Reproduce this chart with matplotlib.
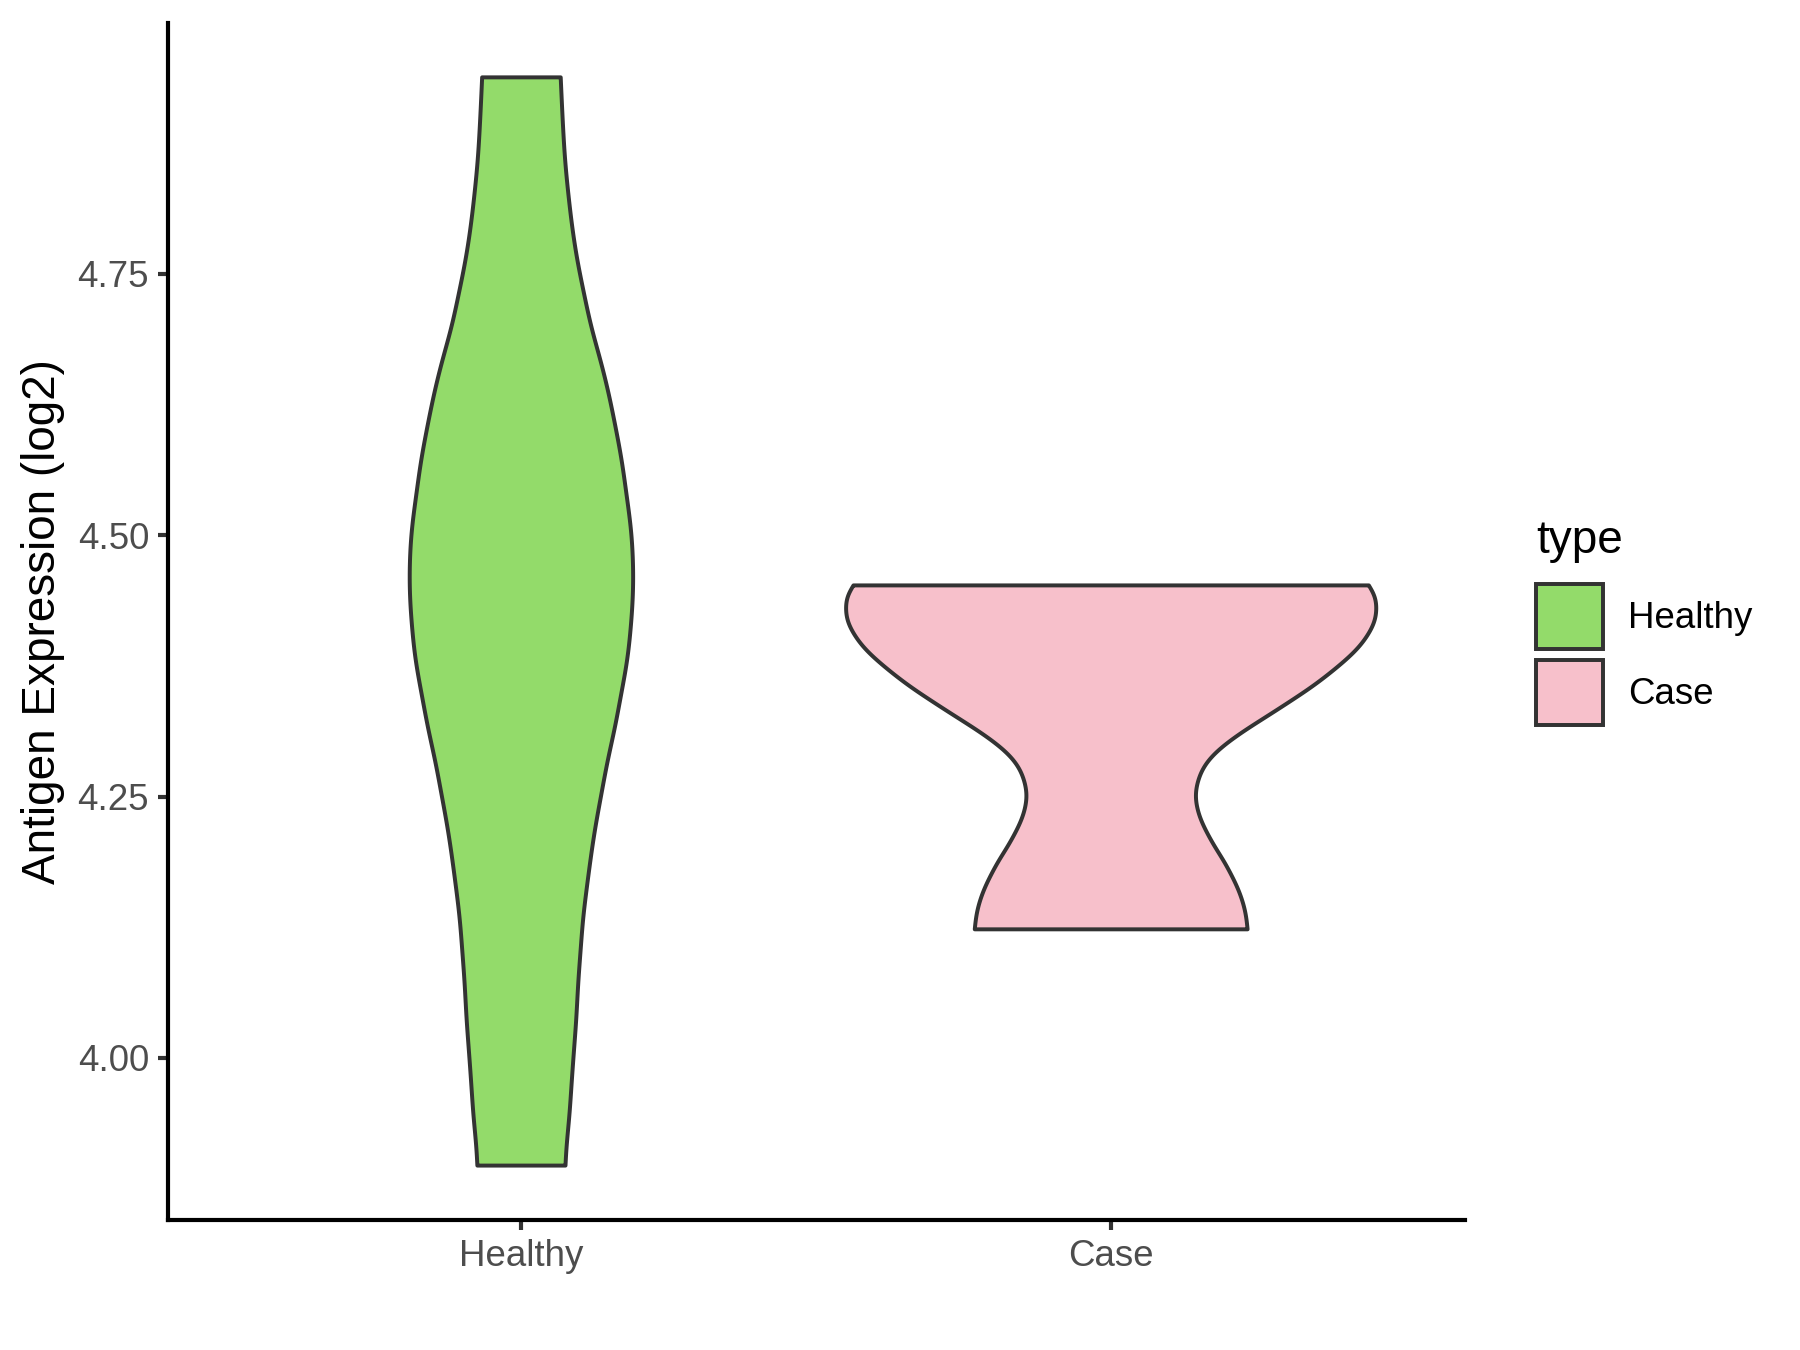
import numpy as np
import matplotlib
matplotlib.use("Agg")
import matplotlib.pyplot as plt
from matplotlib.patches import Patch, Rectangle
from matplotlib.legend_handler import HandlerPatch

plt.rcParams['font.family'] = ['Liberation Sans', 'DejaVu Sans']

# ---------------- data ----------------
categories = ["Healthy", "Case"]
fill_colors = ["#93DB6A", "#F7C0CB"]
legend_title = "type"
y_label = "Antigen Expression (log2)"

# violin profiles: expression value and relative density
healthy_y = [4.938, 4.890, 4.858, 4.826, 4.794, 4.763, 4.731, 4.699, 4.667, 4.635,
             4.603, 4.571, 4.539, 4.507, 4.476, 4.444, 4.412, 4.380, 4.348, 4.316,
             4.284, 4.252, 4.221, 4.189, 4.166, 4.134, 4.103, 4.071, 4.039, 4.007,
             3.975, 3.943, 3.911, 3.897]
healthy_density = [0.148, 0.157, 0.165, 0.177, 0.192, 0.211, 0.236, 0.264, 0.298, 0.329,
                   0.355, 0.378, 0.396, 0.412, 0.420, 0.420, 0.412, 0.398, 0.376, 0.352,
                   0.325, 0.301, 0.279, 0.260, 0.248, 0.233, 0.223, 0.214, 0.207, 0.198,
                   0.189, 0.180, 0.169, 0.166]

case_y = [4.452, 4.444, 4.431, 4.418, 4.406, 4.393, 4.380, 4.367, 4.354, 4.342,
          4.329, 4.316, 4.304, 4.291, 4.278, 4.265, 4.253, 4.240, 4.227, 4.214,
          4.201, 4.189, 4.176, 4.163, 4.150, 4.138, 4.123]
case_density = [0.971, 0.991, 1.000, 0.994, 0.971, 0.934, 0.881, 0.819, 0.751, 0.680,
                0.601, 0.520, 0.451, 0.389, 0.348, 0.327, 0.318, 0.323, 0.339, 0.364,
                0.393, 0.423, 0.451, 0.476, 0.495, 0.507, 0.514]

y_ticks = [4.00, 4.25, 4.50, 4.75]
y_tick_labels = ["4.00", "4.25", "4.50", "4.75"]

profiles_y = [healthy_y, case_y]
profiles_d = [healthy_density, case_density]


def natural_spline(x, y, n=1000):
    """Smooth outline through the read profile points (natural cubic spline)."""
    x = np.asarray(x, float)
    y = np.asarray(y, float)
    order = np.argsort(x)
    x, y = x[order], y[order]
    k = len(x)
    h = np.diff(x)
    A = np.zeros((k, k))
    b = np.zeros(k)
    A[0, 0] = A[-1, -1] = 1.0
    for i in range(1, k - 1):
        A[i, i - 1] = h[i - 1]
        A[i, i] = 2 * (h[i - 1] + h[i])
        A[i, i + 1] = h[i]
        b[i] = 6 * ((y[i + 1] - y[i]) / h[i] - (y[i] - y[i - 1]) / h[i - 1])
    M = np.linalg.solve(A, b)
    xn = np.linspace(x[0], x[-1], n)
    idx = np.clip(np.searchsorted(x, xn) - 1, 0, k - 2)
    x0, x1 = x[idx], x[idx + 1]
    hh = x1 - x0
    t0 = x1 - xn
    t1 = xn - x0
    yn = (M[idx] * t0 ** 3 / (6 * hh) + M[idx + 1] * t1 ** 3 / (6 * hh)
          + (y[idx] / hh - M[idx] * hh / 6) * t0 + (y[idx + 1] / hh - M[idx + 1] * hh / 6) * t1)
    # light gaussian smoothing of the drawn outline (reflect-padded ends)
    step = xn[1] - xn[0]
    sigma = 0.006 / step
    r = int(3 * sigma)
    kern = np.exp(-0.5 * (np.arange(-r, r + 1) / sigma) ** 2)
    kern /= kern.sum()
    padded = np.concatenate([2 * yn[0] - yn[r:0:-1], yn, 2 * yn[-1] - yn[-2:-r - 2:-1]])
    yn = np.convolve(padded, kern, mode="valid")
    return xn, yn


# ---------------- figure ----------------
fig = plt.figure(figsize=(12, 9), dpi=150)
ax = fig.add_axes([0.0931, 0.0963, 0.7208, 0.8867])

max_d = max(max(d) for d in profiles_d)
half_max = 0.45
edge = "#333333"
outline_lw = 1.9
for i, (ys, ds, col) in enumerate(zip(profiles_y, profiles_d, fill_colors)):
    cx = i + 1
    yy, dd = natural_spline(ys, ds)
    hw = np.asarray(dd) / max_d * half_max
    xs = np.concatenate([cx - hw, (cx + hw)[::-1]])
    yv = np.concatenate([yy, yy[::-1]])
    ax.fill(xs, yv, facecolor=col, edgecolor=edge, linewidth=outline_lw,
            joinstyle='round', zorder=2)

all_y = np.concatenate([healthy_y, case_y])
lo, hi = all_y.min(), all_y.max()
pad = 0.05 * (hi - lo)
ax.set_ylim(lo - pad, hi + pad)
ax.set_xlim(0.4, 2.6)

ax.set_xticks([1, 2])
ax.set_xticklabels(categories)
ax.set_yticks(y_ticks)
ax.set_yticklabels(y_tick_labels)

for s in ["top", "right"]:
    ax.spines[s].set_visible(False)
for s in ["left", "bottom"]:
    ax.spines[s].set_color("black")
    ax.spines[s].set_linewidth(2.0)

ax.tick_params(axis='both', colors="#333333", width=2.0, length=4.9,
               labelsize=17.6, labelcolor="#4D4D4D", pad=4)
ax.set_ylabel(y_label, fontsize=22, color="black", labelpad=6)


def full_key(legend, orig_handle, xdescent, ydescent, width, height, fontsize):
    return Rectangle((-xdescent, -ydescent), width, height)


handles = [Patch(facecolor=c, edgecolor=edge, linewidth=outline_lw, label=l)
           for c, l in zip(fill_colors, categories)]
leg = ax.legend(handles=handles, title=legend_title, loc='center left',
                bbox_to_anchor=(0.8535, 0.539), bbox_transform=fig.transFigure,
                frameon=False, fontsize=17.6, title_fontsize=22,
                handlelength=1.82, handleheight=2.35, handletextpad=0.68,
                labelspacing=0.3, borderpad=0, borderaxespad=0,
                handler_map={Patch: HandlerPatch(patch_func=full_key)})
leg._legend_box.align = "left"
leg._legend_box.sep = 10

fig.savefig("out.png", dpi=150, facecolor="white")
